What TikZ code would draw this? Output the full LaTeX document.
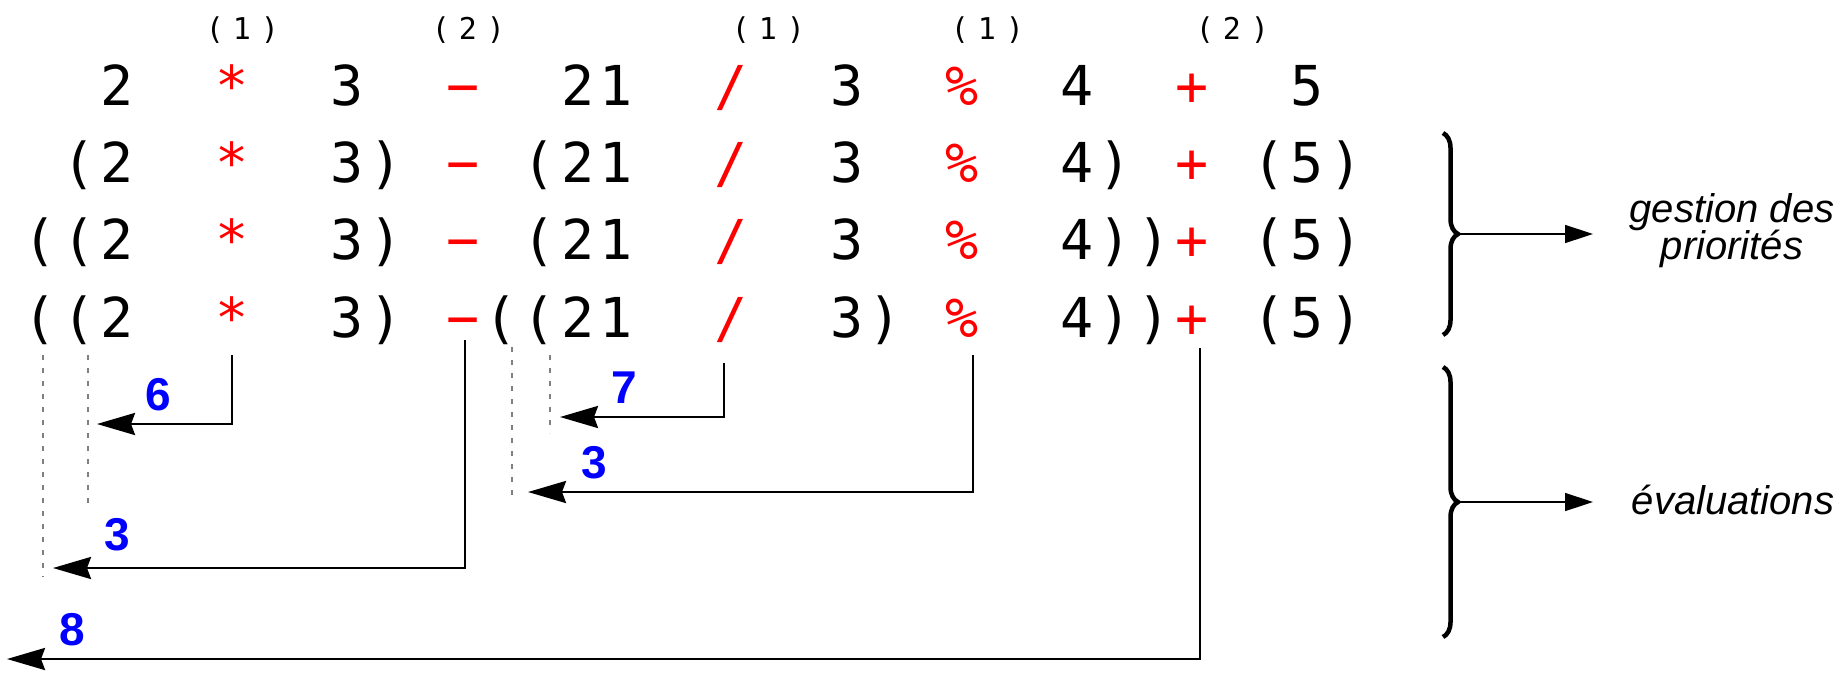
\documentclass[tikz,border=0pt]{standalone}
\usepackage{fontspec}
\setmainfont{Liberation Sans}
\newfontfamily\monofam{DejaVu Sans Mono}
\usetikzlibrary{arrows.meta,decorations.pathreplacing}
\definecolor{opred}{RGB}{255,0,0}
\definecolor{numblue}{RGB}{0,0,255}
\definecolor{dotgray}{RGB}{128,128,128}
\newcommand\PL{(}
\newcommand\PR{)}
\begin{document}
\begin{tikzpicture}[x=1pt,y=-1pt,
  tok/.style={font=\monofam\fontsize{55}{60}\selectfont, anchor=base, inner sep=0pt, text=black},
  op/.style={tok, text=opred},
  lab/.style={font=\monofam\fontsize{30}{32}\selectfont, anchor=base, inner sep=0pt},
  num/.style={font=\bfseries\fontsize{46}{48}\selectfont, text=numblue, anchor=base, inner sep=0pt},
  note/.style={font=\itshape\fontsize{40}{42}\selectfont, anchor=base, inner sep=0pt},
  conn/.style={line width=2.7pt, -{Stealth[length=38pt,width=22pt,inset=4pt]}},
  guide/.style={draw=dotgray, line width=2pt, dash pattern=on 5pt off 8pt},
  brc/.style={line width=4.5pt, decorate, decoration={brace, amplitude=15pt}},
  outarr/.style={line width=1.4pt, -{Triangle[length=28pt,width=18pt]}}
]
\useasboundingbox (0,0) rectangle (1843,675);

% priority labels
\foreach \n/\cx/\d in {1/242/1,2/468/2,3/768/1,4/987/1,5/1232/2} {
  \node[lab] (lp\n) at (\cx-27,39) {\PL};
  \node[lab] (ld\n) at (\cx,39) {\d};
  \node[lab] (lr\n) at (\cx+28,39) {\PR};
}

% operators (red), same columns on every row
\foreach \r/\y in {1/105,2/182,3/259,4/337} {
  \node[op] (o\r-a) at (232.2,\y) {*};
  \node[op] (o\r-b) at (462.6,\y) {−};
  \node[op] (o\r-c) at (731.4,\y) {/};
  \node[op] (o\r-d) at (961.8,\y) {\%};
  \node[op] (o\r-e) at (1192.2,\y) {+};
}

% operands and parentheses
\foreach \k/\c in {3/2,9/3,15/2,16/1,22/3,28/4,34/5}
  \node[tok] (t1-\k) at ({1.8+38.4*\k},105) {\c};
\foreach \k/\c in {2/\PL,3/2,9/3,10/\PR,14/\PL,15/2,16/1,22/3,28/4,29/\PR,33/\PL,34/5,35/\PR}
  \node[tok] (t2-\k) at ({1.8+38.4*\k},182) {\c};
\foreach \k/\c in {1/\PL,2/\PL,3/2,9/3,10/\PR,14/\PL,15/2,16/1,22/3,28/4,29/\PR,30/\PR,33/\PL,34/5,35/\PR}
  \node[tok] (t3-\k) at ({1.8+38.4*\k},259) {\c};
\foreach \k/\c in {1/\PL,2/\PL,3/2,9/3,10/\PR,13/\PL,14/\PL,15/2,16/1,22/3,23/\PR,28/4,29/\PR,30/\PR,33/\PL,34/5,35/\PR}
  \node[tok] (t4-\k) at ({1.8+38.4*\k},337) {\c};

% dotted guides
\coordinate (ga1) at (43,355);  \coordinate (ga2) at (43,577);
\coordinate (gb1) at (88,355);  \coordinate (gb2) at (88,508);
\coordinate (gc1) at (512,347); \coordinate (gc2) at (512,502);
\coordinate (gd1) at (550,355); \coordinate (gd2) at (550,433);
\draw[guide] (ga1) -- (ga2);
\draw[guide] (gb1) -- (gb2);
\draw[guide] (gc1) -- (gc2);
\draw[guide] (gd1) -- (gd2);

% evaluation connectors
\coordinate (s6) at (232,355);   \coordinate (e6) at (97,424);
\coordinate (s3a) at (465,340);  \coordinate (e3a) at (53,568);
\coordinate (s7) at (724,363);   \coordinate (e7) at (560,417);
\coordinate (s3b) at (973,355);  \coordinate (e3b) at (528,492);
\coordinate (s8) at (1200,348);  \coordinate (e8) at (7,659);
\draw[conn] (s6) |- (e6);
\draw[conn] (s3a) |- (e3a);
\draw[conn] (s7) |- (e7);
\draw[conn] (s3b) |- (e3b);
\draw[conn] (s8) |- (e8);

% results
\node[num] (n6) at (158,410) {6};
\node[num] (n3a) at (117,550) {3};
\node[num] (n7) at (624,403) {7};
\node[num] (n3b) at (594,478) {3};
\node[num] (n8) at (72,645) {8};

% braces and notes
\coordinate (br1a) at (1443,133); \coordinate (br1b) at (1443,335);
\coordinate (br2a) at (1443,367); \coordinate (br2b) at (1443,637);
\draw[brc] (br1a) -- (br1b);
\draw[brc] (br2a) -- (br2b);
\coordinate (b1) at (1458,234); \coordinate (a1) at (1593,234);
\coordinate (b2) at (1458,502); \coordinate (a2) at (1593,502);
\draw[outarr] (b1) -- (a1);
\draw[outarr] (b2) -- (a2);
\node[note] (gd) at (1732,222) {gestion des};
\node[note] (pr) at (1732,259) {priorités};
\node[note] (ev) at (1733,514) {évaluations};
\end{tikzpicture}
\end{document}
